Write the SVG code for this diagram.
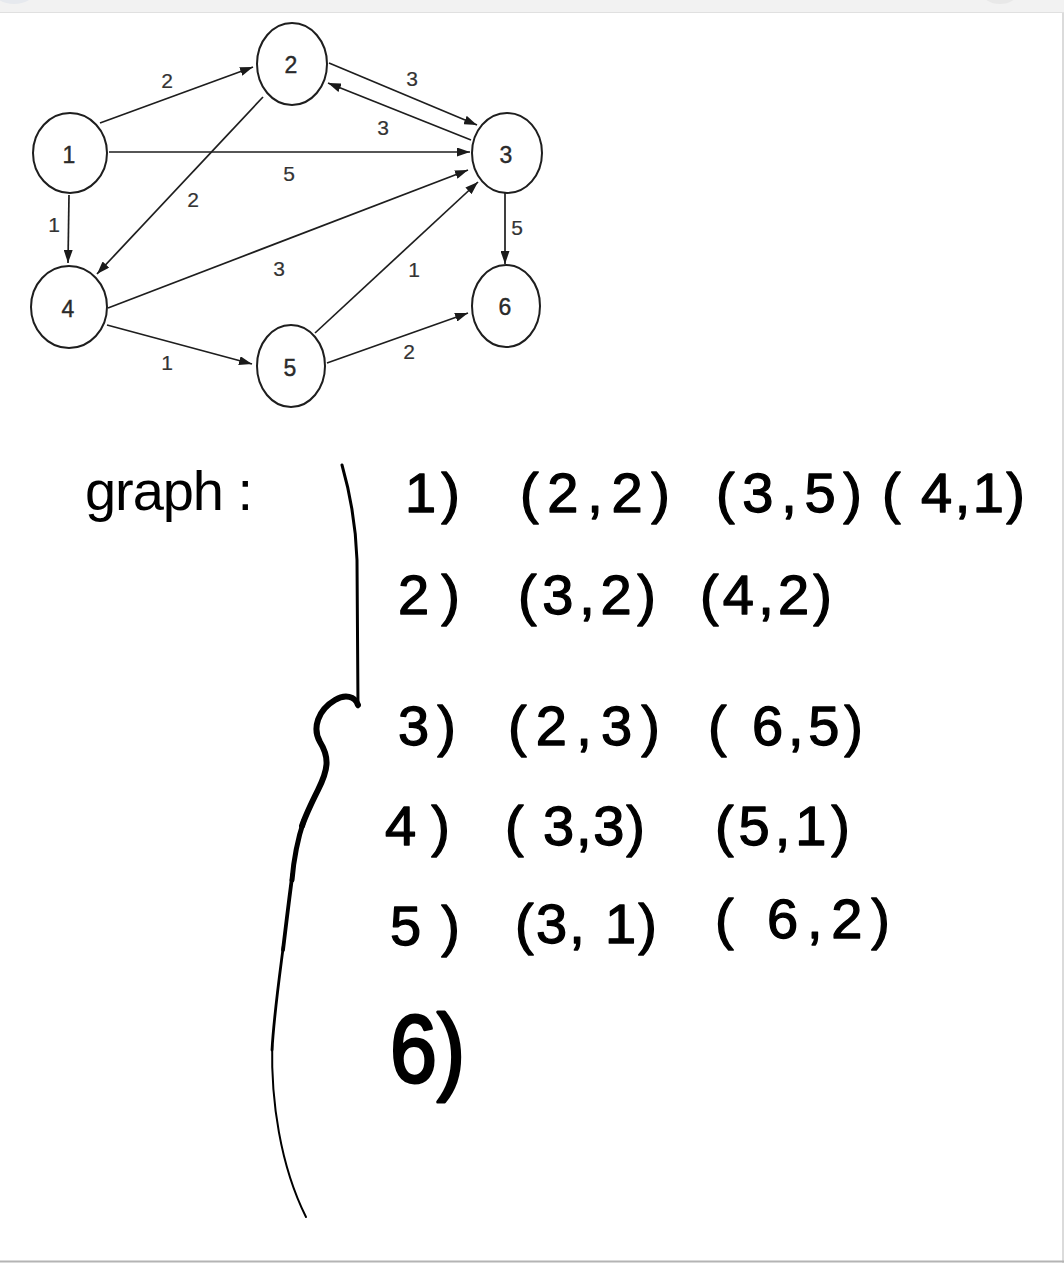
<svg xmlns="http://www.w3.org/2000/svg" width="1064" height="1263" viewBox="0 0 1064 1263">
<defs>
<marker id="arr" markerUnits="userSpaceOnUse" markerWidth="13" markerHeight="9" refX="13" refY="4.5" orient="auto">
<path d="M0,0 L13,4.5 L0,9 z" fill="#1a1a1a"/>
</marker>
<style>
.node ellipse{fill:#ffffff;stroke:#1e1e1e;stroke-width:2}
.node text{font-family:"Liberation Sans",Arial,sans-serif;font-size:23px;fill:#2a2a2a;stroke:#2a2a2a;stroke-width:0.4;text-anchor:middle;dominant-baseline:central}
.edges line{stroke:#1e1e1e;stroke-width:1.7;marker-end:url(#arr)}
.elabel{font-family:"Liberation Sans",Arial,sans-serif;font-size:21px;fill:#333;stroke:#333;stroke-width:0.2;text-anchor:middle;dominant-baseline:central}
.hand{font-family:"Liberation Sans",Arial,sans-serif;font-size:56px;fill:#000;stroke:#000;stroke-width:1.3;stroke-linejoin:round}
.brace{fill:none;stroke:#000;stroke-linecap:round;stroke-linejoin:round}
</style>
</defs>
<rect x="0" y="0" width="1064" height="1263" fill="#ffffff"/>
<rect x="0" y="0" width="1064" height="12" fill="#f2f2f2"/>
<line x1="0" y1="12.5" x2="1064" y2="12.5" stroke="#e0e0e0" stroke-width="1"/>
<ellipse cx="14" cy="-8" rx="20" ry="12" fill="#e6e9ee"/>
<ellipse cx="1000" cy="-8" rx="18" ry="12" fill="#e8e8e8"/>
<line x1="1063" y1="13" x2="1063" y2="1263" stroke="#cfcfcf" stroke-width="1.5"/>
<line x1="0" y1="1261.5" x2="1064" y2="1261.5" stroke="#b4b4b4" stroke-width="2"/>

<g id="edges" class="edges">
<line x1="100" y1="123" x2="253" y2="67"/>
<line x1="109" y1="152" x2="470" y2="152"/>
<line x1="329" y1="63" x2="477" y2="125"/>
<line x1="471" y1="140" x2="328" y2="83"/>
<line x1="263" y1="97" x2="97" y2="274"/>
<line x1="69" y1="195" x2="68" y2="263"/>
<line x1="108" y1="308" x2="468" y2="170"/>
<line x1="107" y1="325" x2="252" y2="364"/>
<line x1="315" y1="333" x2="478" y2="182"/>
<line x1="327" y1="363" x2="468" y2="313"/>
<line x1="505" y1="193" x2="505" y2="264"/>
<text class="elabel" x="167" y="80">2</text>
<text class="elabel" x="289" y="173">5</text>
<text class="elabel" x="412" y="78">3</text>
<text class="elabel" x="383" y="127">3</text>
<text class="elabel" x="193" y="199">2</text>
<text class="elabel" x="54" y="224">1</text>
<text class="elabel" x="279" y="268">3</text>
<text class="elabel" x="167" y="362">1</text>
<text class="elabel" x="414" y="269">1</text>
<text class="elabel" x="409" y="351">2</text>
<text class="elabel" x="517" y="227">5</text>
</g>

<g id="node1" class="node"><ellipse cx="70" cy="153" rx="37" ry="40"/><text x="69" y="155">1</text></g>
<g id="node2" class="node"><ellipse cx="292" cy="64" rx="35" ry="41"/><text x="291" y="65">2</text></g>
<g id="node3" class="node"><ellipse cx="507" cy="153" rx="35" ry="40"/><text x="506" y="155">3</text></g>
<g id="node4" class="node"><ellipse cx="69" cy="307" rx="38" ry="41"/><text x="68" y="309">4</text></g>
<g id="node5" class="node"><ellipse cx="291" cy="366" rx="34" ry="41"/><text x="290" y="368">5</text></g>
<g id="node6" class="node"><ellipse cx="506" cy="306" rx="34" ry="41"/><text x="505" y="307">6</text></g>

<g id="notes">
<text class="hand" x="85" y="510" textLength="168" lengthAdjust="spacing" style="stroke-width:0">graph :</text>
<path class="brace" stroke-width="3" d="M342,465 C352,500 356,530 357,560 L358,707"/>
<path class="brace" stroke-width="6" d="M358,705 C355,696 345,694 335,700 C318,710 312,728 320,742 C330,758 328,770 318,790 C312,802 306,814 302,826"/>
<path class="brace" stroke-width="5" d="M304,820 C298,838 294,856 292,880"/>
<path class="brace" stroke-width="3.8" d="M292.5,874 C289,900 286,925 283,950"/>
<path class="brace" stroke-width="2.8" d="M283.5,945 C279,980 274,1015 272,1050"/>
<path class="brace" stroke-width="2" d="M272.2,1045 C271,1100 280,1165 306,1217"/>

<text class="hand" x="405" y="512" textLength="55" lengthAdjust="spacing">1)</text>
<text class="hand" x="520" y="512" textLength="150" lengthAdjust="spacing">(2,2)</text>
<text class="hand" x="716" y="512" textLength="146" lengthAdjust="spacing">(3,5)</text>
<text class="hand" x="882" y="512" textLength="143" lengthAdjust="spacing">( 4,1)</text>

<text class="hand" x="398" y="614" textLength="62" lengthAdjust="spacing">2)</text>
<text class="hand" x="518" y="614" textLength="138" lengthAdjust="spacing">(3,2)</text>
<text class="hand" x="700" y="614" textLength="132" lengthAdjust="spacing">(4,2)</text>

<text class="hand" x="398" y="745" textLength="58" lengthAdjust="spacing">3)</text>
<text class="hand" x="508" y="745" textLength="152" lengthAdjust="spacing">(2,3)</text>
<text class="hand" x="708" y="745" textLength="155" lengthAdjust="spacing">( 6,5)</text>

<text class="hand" x="385" y="845" textLength="65" lengthAdjust="spacing">4)</text>
<text class="hand" x="505" y="845" textLength="140" lengthAdjust="spacing">( 3,3)</text>
<text class="hand" x="715" y="845" textLength="135" lengthAdjust="spacing">(5,1)</text>

<text class="hand" x="390" y="945" textLength="70" lengthAdjust="spacing">5)</text>
<text class="hand" x="515" y="943" textLength="142" lengthAdjust="spacing">(3, 1)</text>
<text class="hand" x="715" y="938" textLength="175" lengthAdjust="spacing">( 6,2)</text>

<text class="hand" x="390" y="1082" textLength="75" lengthAdjust="spacingAndGlyphs" style="font-size:96px;stroke-width:3">6)</text>
</g>
</svg>
